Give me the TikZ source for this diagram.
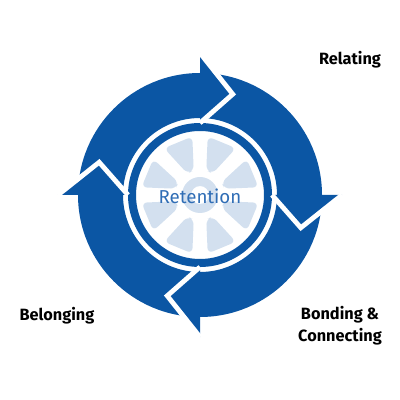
\documentclass[tikz,border=0pt]{standalone}
\usepackage{xcolor}
\usepackage{fontspec}
\setmainfont{Fira Sans}
\usepackage{tikz}
\usetikzlibrary{positioning}
\definecolor{cyclenavy}{HTML}{0B56A4}
\definecolor{spokeblue}{HTML}{D3E0EF}
\definecolor{textblue}{HTML}{2F6DB5}

\begin{document}
\begin{tikzpicture}[x=0.025cm, y=0.025cm,
        cyclelabel/.style={font=\bfseries\fontsize{11.6}{15.5}\selectfont, text=black, align=center},
        headgap/.style={draw=white, line width=0.12cm}]
        \useasboundingbox (-200,-205) rectangle (200,195);
        % ring and inner band
        \fill[cyclenavy, even odd rule] (0,0) circle (122) circle (77);
        \fill[cyclenavy, even odd rule] (0,0) circle (72) circle (64);
        % arrow heads, cut from the next tail by a white gap
        \foreach \a in {90,0,-90,180}{
            \fill[cyclenavy] (\a:72) -- (\a:142) -- (\a-18:106) -- cycle;
            \draw[headgap] (\a:142) -- (\a-18:106) -- (\a:72);
        }
        % wheel in the middle
        \foreach \s in {22.5,67.5,...,337.5}{
            \fill[spokeblue, rounded corners=4pt] (\s-15:59) -- (\s+15:59) -- (\s+8:25) -- (\s-8:25) -- cycle;
        }
        \fill[spokeblue, even odd rule] (0,0) circle (18) circle (9);
        \node[text=textblue, font=\fontsize{13.3}{16}\selectfont] (retention) at (0,-1) {Retention};
        % stage labels
        \node[cyclelabel] (relating) at (150,135) {Relating};
        \node[cyclelabel] (belonging) at (-143,-121) {Belonging};
        \node[cyclelabel] (bonding) at (140,-131) {Bonding \&\\Connecting};
    \end{tikzpicture}
\end{document}
